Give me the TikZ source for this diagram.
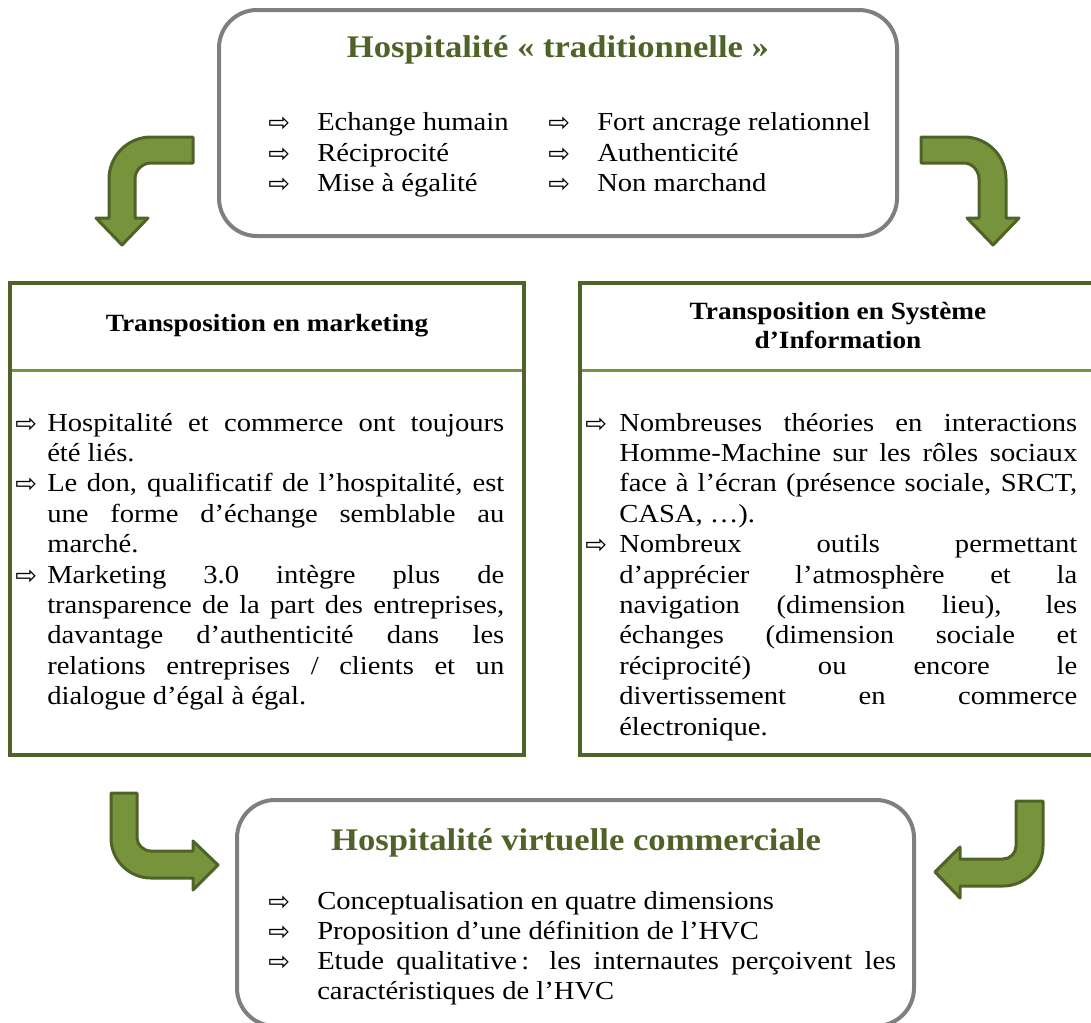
\documentclass[tikz,border=0pt]{standalone}
\usepackage{fontspec}
\setmainfont[FakeStretch=1.1]{Liberation Serif}
\newfontfamily\arrowfont{DejaVu Sans}
\definecolor{olivedark}{HTML}{4F6228}
\definecolor{olivemid}{HTML}{77933C}
\definecolor{boxgray}{HTML}{7F7F7F}
\newdimen\pxu \pxu=0.75pt
\newcommand\jline[2]{\hbox to #1\pxu{#2}}
\newcommand\lline[1]{\hbox{#1}}
\newcommand\bodyfont{\fontsize{19.5pt}{22.8pt}\selectfont}
\newcommand\pointer{{\arrowfont\fontsize{19.5pt}{19.5pt}\selectfont ⇨}}
\tikzset{
  roundbox/.style={draw=boxgray, line width=3pt, rounded corners=28.5pt, inner sep=0},
  greenbox/.style={draw=olivedark, line width=3pt, inner sep=0},
  divider/.style={draw=olivemid, line width=2.25pt},
  bendarrow/.style={fill=olivemid, draw=olivedark, line width=2.25pt, line join=round},
  maintitle/.style={font=\fontsize{23.6pt}{26pt}\selectfont\bfseries, text=olivedark, inner sep=0},
  boxtitle/.style={font=\fontsize{18.6pt}{21.75pt}\selectfont\bfseries, align=center, inner sep=0},
  txt/.style={font=\bodyfont, inner sep=0, anchor=base west},
  ptr/.style={inner sep=0, anchor=base west}
}
\begin{document}
\begin{tikzpicture}[x=0.75pt,y=-0.75pt]
\useasboundingbox (0,0) rectangle (1091,1022);

% ---------- boxes ----------
\node[roundbox, minimum width=508.5pt, minimum height=169.5pt] (top) at (558,123) {};
\node[greenbox, minimum width=385.5pt, minimum height=354pt] (lbox) at (267,519) {};
\node[greenbox, minimum width=386.25pt, minimum height=354pt] (rbox) at (837.5,519) {};
\node[roundbox, minimum width=507.75pt, minimum height=169.5pt] (bot) at (575.5,913) {};

\draw[divider] (12,370) -- (522,370);
\draw[divider] (582,370) -- (1093,370);

% ---------- top box ----------
\node[maintitle] (toptitle) at (558,50) {Hospitalité « traditionnelle »};
\node[ptr] (ta1) at (268,131) {\pointer};
\node[ptr] (ta2) at (268,162) {\pointer};
\node[ptr] (ta3) at (268,192) {\pointer};
\node[txt] (tt1) at (317,130) {Echange humain};
\node[txt] (tt2) at (317,161) {Réciprocité};
\node[txt] (tt3) at (317,191) {Mise à égalité};
\node[ptr] (tb1) at (548,131) {\pointer};
\node[ptr] (tb2) at (548,162) {\pointer};
\node[ptr] (tb3) at (548,192) {\pointer};
\node[txt] (tu1) at (597,130) {Fort ancrage relationnel};
\node[txt] (tu2) at (597,161) {Authenticité};
\node[txt] (tu3) at (597,191) {Non marchand};

% ---------- left box ----------
\node[boxtitle] (ltitle) at (267,326) {Transposition en marketing};
\node[ptr] (la1) at (15,432) {\pointer};
\node[ptr] (la2) at (15,492.8) {\pointer};
\node[ptr] (la3) at (15,584) {\pointer};
\node[txt] (ltext) at (47,431) {\vtop{\baselineskip=22.8pt
  \jline{457}{Hospitalité et commerce ont toujours}
  \lline{été liés.}
  \jline{457}{Le don, qualificatif de l’hospitalité, est}
  \jline{457}{une forme d’échange semblable au}
  \lline{marché.}
  \jline{457}{Marketing 3.0 intègre plus de}
  \jline{457}{transparence de la part des entreprises,}
  \jline{457}{davantage d’authenticité dans les}
  \jline{457}{relations entreprises / clients et un}
  \lline{dialogue d’égal à égal.}}};

% ---------- right box ----------
\node[boxtitle] (rtitle) at (838,325.5) {Transposition en Système\\d’Information};
\node[ptr] (ra1) at (585,432) {\pointer};
\node[ptr] (ra2) at (585,553.6) {\pointer};
\node[txt] (rtext) at (619,431) {\vtop{\baselineskip=22.8pt
  \jline{458}{Nombreuses théories en interactions}
  \jline{458}{Homme-Machine sur les rôles sociaux}
  \jline{458}{face à l’écran (présence sociale, SRCT,}
  \lline{CASA, …).}
  \jline{458}{Nombreux outils permettant}
  \jline{458}{d’apprécier l’atmosphère et la}
  \jline{458}{navigation (dimension lieu), les}
  \jline{458}{échanges (dimension sociale et}
  \jline{458}{réciprocité) ou encore le}
  \jline{458}{divertissement en commerce}
  \lline{électronique.}}};

% ---------- bottom box ----------
\node[maintitle] (bottitle) at (576,843) {Hospitalité virtuelle commerciale};
\node[ptr] (ba1) at (268,910) {\pointer};
\node[ptr] (ba2) at (268,940) {\pointer};
\node[ptr] (ba3) at (268,970) {\pointer};
\node[txt] (bt1) at (317,909) {Conceptualisation en quatre dimensions};
\node[txt] (bt2) at (317,939) {Proposition d’une définition de l’HVC};
\node[txt] (bt3) at (317,969) {\vtop{\baselineskip=22.8pt
  \jline{579}{Etude qualitative\,: les internautes perçoivent les}
  \lline{caractéristiques de l’HVC}}};

% ---------- bent arrows ----------
% top left
\draw[bendarrow] (193,137) -- (151,137) .. controls (127.8,137) and (109,155.8) .. (109,179)
  -- (109,218) -- (96,218) -- (122,245) -- (148,218) -- (135,218) -- (135,179)
  .. controls (135,170.2) and (142.2,163) .. (151,163) -- (193,163) -- cycle;
% top right
\draw[bendarrow] (921,137) -- (964,137) .. controls (987.2,137) and (1006,155.8) .. (1006,179)
  -- (1006,218) -- (1019,218) -- (993,245) -- (967,218) -- (979,218) -- (979,179)
  .. controls (979,170.7) and (972.3,163) .. (964,163) -- (921,163) -- cycle;
% bottom left
\draw[bendarrow] (111,793) -- (111,838) .. controls (111,860.1) and (128.9,878) .. (151,878)
  -- (193,878) -- (193,890) -- (218,865) -- (193,841) -- (193,851) -- (151,851)
  .. controls (143.3,851) and (137,844.7) .. (137,838) -- (137,793) -- cycle;
% bottom right
\draw[bendarrow] (1043,801) -- (1043,846) .. controls (1043,868.1) and (1025.1,886) .. (1003,886)
  -- (960,886) -- (960,898) -- (935,872) -- (960,847) -- (960,859) -- (1003,859)
  .. controls (1010.2,859) and (1016,853.2) .. (1016,846) -- (1016,801) -- cycle;
\end{tikzpicture}
\end{document}
